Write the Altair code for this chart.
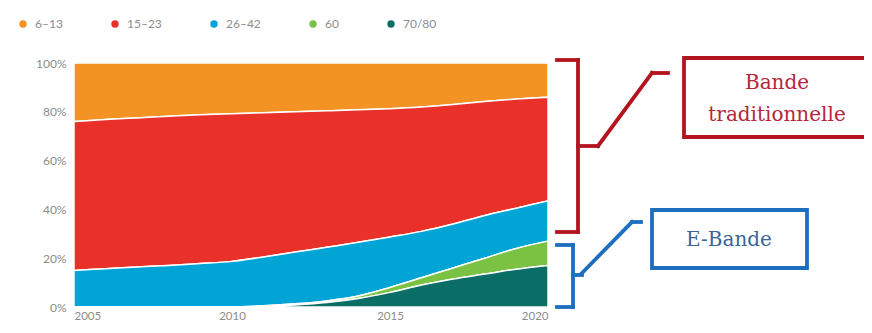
import altair as alt
import pandas as pd

years = list(range(2005, 2021))
series = ["6–13", "15–23", "26–42", "60", "70/80"]
colors = ["#F39324", "#E9312A", "#00A5D6", "#7CC242", "#0B6E66"]

v_6_13 = [24, 23.2, 22.5, 21.8, 21.2, 20.8, 20.4, 20, 19.6, 19.2, 18.7, 18, 17, 15.8, 14.8, 14]
v_15_23 = [61, 61.1, 61.1, 61.2, 61, 60.5, 59.1, 57.5, 55.9, 54.3, 52.6, 51, 49, 46.7, 44.7, 42.5]
v_26_42 = [15, 15.7, 16.4, 17, 17.8, 18.7, 20, 21.2, 22, 22, 20.7, 19, 18, 17.5, 16.5, 16.5]
v_60 = [0, 0, 0, 0, 0, 0, 0.3, 0.5, 0.7, 1.0, 2, 3, 4.5, 6.5, 8.5, 10]
v_70_80 = [0, 0, 0, 0, 0, 0, 0.2, 0.8, 1.8, 3.5, 6, 9, 11.5, 13.5, 15.5, 17]

values = [v_6_13, v_15_23, v_26_42, v_60, v_70_80]
rows = []
for i, (name, vals) in enumerate(zip(series, values)):
    for y, v in zip(years, vals):
        rows.append({"year": y, "series": name, "value": v, "ord": len(series) - i})
df = pd.DataFrame(rows)

GRAY = "#8c8c8c"
RED = "#B3141F"
BLUE = "#1E6EBF"

areas = alt.Chart(df).mark_area(
    interpolate="monotone", stroke="white", strokeWidth=1.5
).encode(
    x=alt.X("year:Q", scale=alt.Scale(domain=[2005, 2020], nice=False),
            axis=alt.Axis(values=[2005, 2010, 2015, 2020], format="d", title=None,
                          labelFlush=True, labelPadding=3, labelFontSize=11.5)),
    y=alt.Y("value:Q", stack="normalize",
            axis=alt.Axis(values=[0, 0.2, 0.4, 0.6, 0.8, 1.0], format=".0%", title=None,
                          labelPadding=8)),
    color=alt.Color("series:N", scale=alt.Scale(domain=series, range=colors),
                    legend=alt.Legend(orient="none", legendX=-57, legendY=-45,
                                      direction="horizontal", title=None,
                                      symbolType="circle", symbolSize=55,
                                      symbolStrokeWidth=0, columnPadding=46,
                                      labelOffset=6)),
    order=alt.Order("ord:Q"),
)

one = pd.DataFrame({"a": [0]})


def seg(x1, y1, x2, y2, color):
    return alt.Chart(one).mark_rule(color=color, strokeWidth=3.8, strokeCap="square").encode(
        x=alt.value(x1), y=alt.value(y1), x2=alt.value(x2), y2=alt.value(y2)
    )


def box(x1, y1, x2, y2, color):
    return alt.Chart(one).mark_rect(fill="white", stroke=color, strokeWidth=3.8).encode(
        x=alt.value(x1), y=alt.value(y1), x2=alt.value(x2), y2=alt.value(y2)
    )


def label(x, y, text, color):
    return alt.Chart(one).mark_text(
        text=text, color=color, font="DejaVu Serif", fontSize=20, align="center", baseline="middle"
    ).encode(x=alt.value(x), y=alt.value(y))


red_parts = [
    seg(483, -3, 504, -3, RED),
    seg(504, -3, 504, 169, RED),
    seg(483, 169, 504, 169, RED),
    seg(504, 83, 524, 83, RED),
    seg(524, 83, 578, 10, RED),
    seg(578, 10, 594, 10, RED),
    box(610, -5, 792, 74, RED),
    label(703, 20, "Bande", "#B5263A"),
    label(703, 52, "traditionnelle", "#B5263A"),
]
blue_parts = [
    seg(483, 182, 499, 182, BLUE),
    seg(499, 182, 499, 244, BLUE),
    seg(483, 244, 499, 244, BLUE),
    seg(499, 212, 508, 212, BLUE),
    seg(508, 210, 558, 159, BLUE),
    seg(558, 159, 567, 159, BLUE),
    box(578, 147, 733, 205, BLUE),
    label(655, 177, "E-Bande", "#3C6496"),
]

chart = alt.layer(areas, *red_parts, *blue_parts).properties(
    width=474, height=244,
    autosize=alt.AutoSizeParams(type="none"),
    padding={"left": 66, "top": 55, "right": 316, "bottom": 18},
).configure_view(stroke=None).configure_axis(
    domain=False, ticks=False, grid=False, labelColor=GRAY, labelFont="Lato", labelFontSize=12
).configure_legend(
    labelColor=GRAY, labelFont="Lato", labelFontSize=12
)

chart.save("out.html", embed_options={"renderer": "svg", "actions": False})
